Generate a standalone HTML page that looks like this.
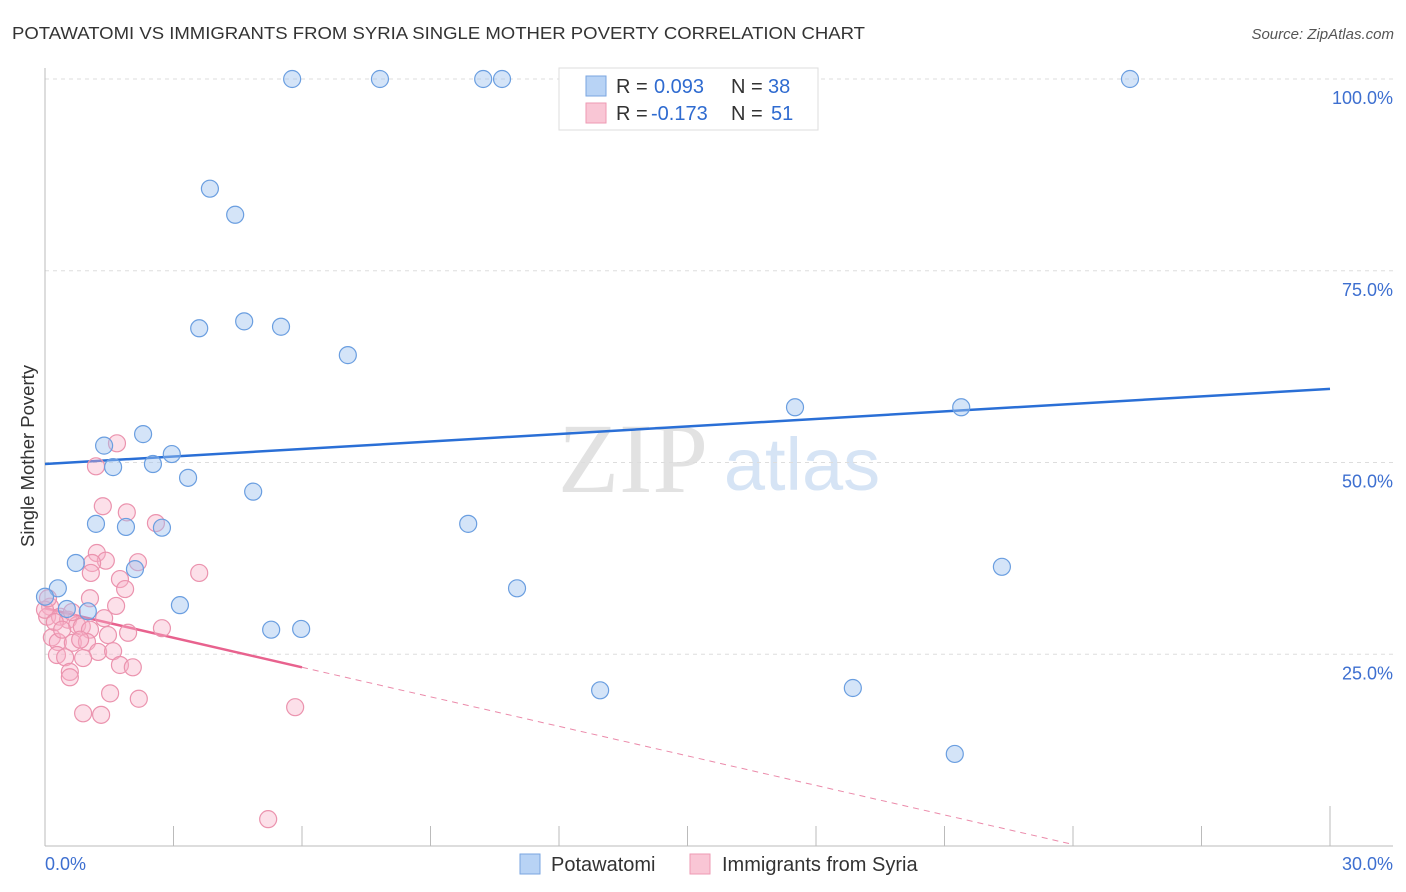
<!DOCTYPE html>
<html><head><meta charset="utf-8">
<style>
body{margin:0;background:#fff;font-family:"Liberation Sans",sans-serif;}
svg{display:block}
</style></head>
<body>
<svg id="chart" width="1406" height="892" xmlns="http://www.w3.org/2000/svg">
<text x="12" y="39" font-size="17.5" fill="#333" textLength="853" lengthAdjust="spacingAndGlyphs">POTAWATOMI VS IMMIGRANTS FROM SYRIA SINGLE MOTHER POVERTY CORRELATION CHART</text>
<text x="1394" y="39" font-size="15" fill="#555" font-style="italic" text-anchor="end">Source: ZipAtlas.com</text>
<g>
<text x="633" y="492" font-size="100" font-family="Liberation Serif,serif" fill="#e2e2e2" text-anchor="middle">ZIP</text>
<text x="802" y="490" font-size="74" fill="#d6e4f5" text-anchor="middle">atlas</text>
</g>
<g id="grid"></g>
<g id="axes"></g>
<g id="trends"></g>
<g id="points"></g>
<text transform="translate(34,456) rotate(-90)" font-size="18.5" fill="#333" text-anchor="middle">Single Mother Poverty</text>
<g>
<rect x="559" y="68" width="259" height="62" fill="#fff" stroke="#ddd"/>
<rect x="586" y="76" width="20" height="20" fill="#b8d3f5" stroke="#7aa6e0"/>
<rect x="586" y="103" width="20" height="20" fill="#f9c6d5" stroke="#ee9ab3"/>
<text x="616" y="93" font-size="20" fill="#333">R = <tspan x="654" fill="#2f6bd0">0.093</tspan><tspan x="731">N = </tspan><tspan x="768" fill="#2f6bd0">38</tspan></text>
<text x="616" y="120" font-size="20" fill="#333">R = <tspan x="651" fill="#2f6bd0">-0.173</tspan><tspan x="731">N = </tspan><tspan x="771" fill="#2f6bd0">51</tspan></text>
</g>
<g>
<rect x="520" y="854" width="20" height="20" fill="#b8d3f5" stroke="#7aa6e0"/>
<text x="551" y="871" font-size="20" fill="#333">Potawatomi</text>
<rect x="690" y="854" width="20" height="20" fill="#f9c6d5" stroke="#ee9ab3"/>
<text x="722" y="871" font-size="20" fill="#333">Immigrants from Syria</text>
</g>
</svg>
<script>
const yTicks=[25,50,75,100];
const yTickLabels=["25.0%","50.0%","75.0%","100.0%"];
const xTickLabels=["0.0%","30.0%"];
const blueX=[5.77,7.82,10.23,10.67,25.33,3.85,4.44,3.60,4.65,5.51,7.07,17.51,21.39,2.29,1.38,2.96,1.59,2.52,3.34,4.86,1.19,1.89,2.73,9.88,0.72,2.10,11.02,22.34,0.30,0.0,0.51,1.00,3.15,5.28,5.98,12.96,18.86,21.24];
const blueY=[100,100,100,100,100,85.7,82.3,67.5,68.4,67.7,64.0,57.2,57.2,53.7,52.2,51.1,49.4,49.8,48.0,46.2,42.0,41.6,41.5,42.0,36.9,36.1,33.6,36.4,33.6,32.5,30.9,30.6,31.4,28.2,28.3,20.3,20.6,12.0];
const pinkX=[1.68,1.19,1.35,1.91,2.59,1.21,1.42,1.10,2.17,1.07,3.60,1.75,1.87,1.05,1.66,0.12,1.38,0.05,0.35,0.54,0.75,0.86,1.05,1.47,1.94,2.73,0.16,0.30,0.65,0.98,1.24,1.59,0.28,0.47,0.89,1.75,2.05,0.58,0.58,1.52,2.19,0.89,1.31,5.84,5.21,0.0,0.23,0.40,0.07,0.63,0.82];
const pinkY=[52.5,49.5,44.3,43.5,42.1,38.2,37.2,36.9,37.0,35.6,35.6,34.8,33.5,32.3,31.3,31.2,29.7,29.9,29.9,29.5,28.8,28.6,28.2,27.5,27.8,28.4,27.2,26.6,26.5,26.6,25.3,25.4,24.9,24.6,24.5,23.6,23.3,22.7,22.0,19.9,19.2,17.3,17.1,18.1,3.5,30.8,29.2,28.2,32.3,30.5,26.9];
const blueTrend=[49.8,59.6];
const pinkTrend=[31.0,23.3];
const pinkSolidEnd=6, pinkDashEnd=24;

const NS="http://www.w3.org/2000/svg";
const X0=45,X1=1330,Y0=846,Y100=79;
const sx=v=>X0+(v/30)*(X1-X0);
const sy=v=>Y0-(v/100)*(Y0-Y100);
function mk(tag,attrs,parent){const e=document.createElementNS(NS,tag);for(const k in attrs)e.setAttribute(k,attrs[k]);parent.appendChild(e);return e;}
const grid=document.getElementById('grid'),axes=document.getElementById('axes'),tr=document.getElementById('trends'),pts=document.getElementById('points');
yTicks.forEach((t,i)=>{
 const l=mk('line',{x1:X0,x2:1393,y1:sy(t),y2:sy(t),stroke:'#ddd','stroke-dasharray':'4,4'},grid);
 
 
 const tx=mk('text',{x:1393,y:sy(t)+25,'font-size':18,fill:'#3d6fd0','text-anchor':'end'},grid);
 tx.textContent=yTickLabels[i];
 
 
});
const ya=mk('line',{x1:X0,x2:X0,y1:68,y2:Y0,stroke:'#bbb'},axes);


const xa=mk('line',{x1:X0,x2:1393,y1:Y0,y2:Y0,stroke:'#bbb'},axes);


for(let i=1;i<=10;i++){
 const t=mk('line',{x1:sx(i*3),x2:sx(i*3),y1:(i==10?806:826),y2:Y0,stroke:'#bbb'},axes);
 
 
}
const xl0=mk('text',{x:45,y:870,'font-size':18,fill:'#3d6fd0'},axes);xl0.textContent=xTickLabels[0];


const xl1=mk('text',{x:1393,y:870,'font-size':18,fill:'#3d6fd0','text-anchor':'end'},axes);xl1.textContent=xTickLabels[1];



pinkX.forEach((x,i)=>{
 const c=mk('circle',{cx:sx(x),cy:sy(pinkY[i]),r:8.5,fill:'rgba(248,178,200,0.4)',stroke:'#eb93ae','stroke-width':1.2},pts);
 
 
});
blueX.forEach((x,i)=>{
 const c=mk('circle',{cx:sx(x),cy:sy(blueY[i]),r:8.5,fill:'rgba(160,196,240,0.45)',stroke:'#6a9ee0','stroke-width':1.2},pts);
 
 
});
const bl=mk('line',{x1:sx(0),y1:sy(blueTrend[0]),x2:sx(30),y2:sy(blueTrend[1]),stroke:'#2a6fd6','stroke-width':2.5},tr);


const pAt=x=>pinkTrend[0]+(pinkTrend[1]-pinkTrend[0])*x/pinkSolidEnd;
const pl=mk('line',{x1:sx(0),y1:sy(pAt(0)),x2:sx(pinkSolidEnd),y2:sy(pAt(pinkSolidEnd)),stroke:'#e8628e','stroke-width':2.5},tr);


const pd=mk('line',{x1:sx(pinkSolidEnd),y1:sy(pAt(pinkSolidEnd)),x2:sx(pinkDashEnd),y2:sy(pAt(pinkDashEnd)),stroke:'#eb8aaa','stroke-width':1,'stroke-dasharray':'6,5'},tr);


</script>
</body></html>
